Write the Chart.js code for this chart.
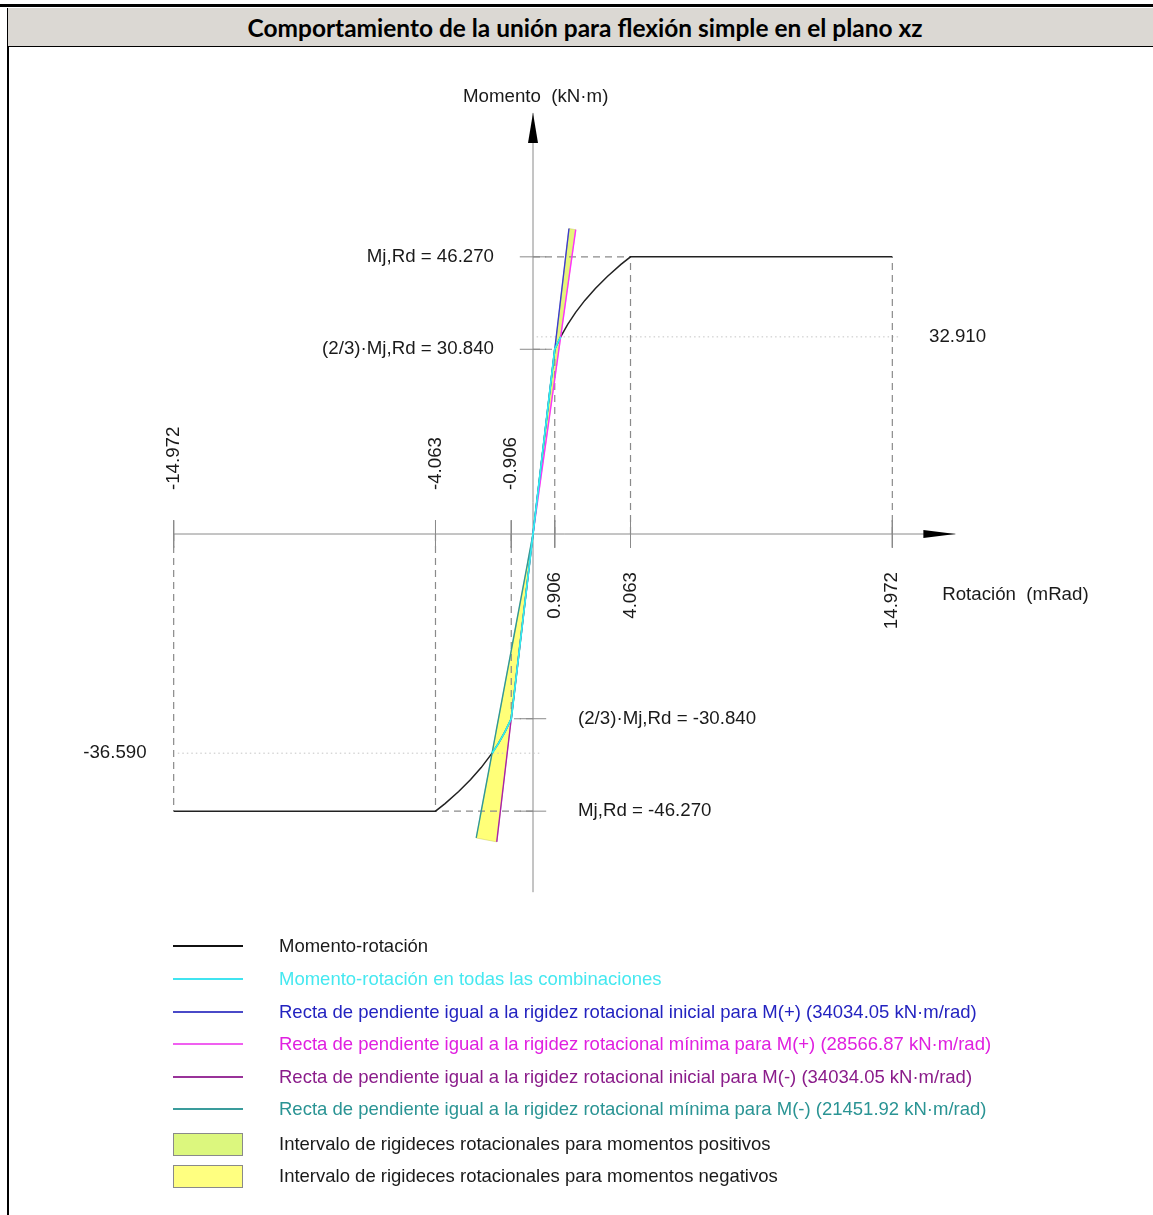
<!DOCTYPE html>
<html>
<head>
<meta charset="utf-8">
<script src="https://cdn.jsdelivr.net/npm/chart.js@4/dist/chart.umd.min.js"></script>
<style>
  html, body { margin: 0; padding: 0; background: #fff; }
  body { width: 1153px; height: 1215px; position: relative; overflow: hidden; font-family: "Liberation Sans", Arial, sans-serif; }
  #topThick { position: absolute; left: 0; top: 4px; width: 1153px; height: 3px; background: #000; }
  #topThin { position: absolute; left: 7px; top: 7.5px; width: 1146px; height: 1px; background: #000; }
  #header { position: absolute; left: 7px; top: 8px; width: 1146px; height: 39px; background: #dbd8d3; border-left: 1.5px solid #000; border-bottom: 1.5px solid #000; box-sizing: border-box; }
  #title { position: absolute; top: 0; left: 0; width: 1146px; height: 39px; line-height: 39px; text-align: center; font-family: Lato, "Open Sans", sans-serif; font-weight: bold; font-size: 20px; color: #000; white-space: nowrap; }
  #leftBorder { position: absolute; left: 7px; top: 47px; width: 1.5px; height: 1168px; background: #000; }
  #wrap { position: absolute; left: 0; top: 0; width: 1153px; height: 1215px; }
  .leg { position: absolute; left: 0; top: 0; }
  .legLine { position: absolute; left: 173px; width: 70px; height: 2px; }
  .legBox { position: absolute; left: 173px; width: 68px; height: 21px; border: 1px solid #8a8a8a; }
  .legText { position: absolute; left: 279px; font-size: 18.5px; white-space: nowrap; line-height: 20px; }
</style>
</head>
<body>
<div id="topThick"></div>
<div id="topThin"></div>
<div id="header"><div id="title">Comportamiento de la unión para flexión simple en el plano xz</div></div>
<div id="leftBorder"></div>
<div id="wrap"><canvas id="c"></canvas></div>
<div id="legend"></div>
<script>
// ---------------- DATA ----------------
// Moment-rotation curve, positive moments (rotation mRad, moment kN·m)
const curvePosRot = [0, 0.906, 1.152, 1.446, 1.777, 2.159, 2.598, 3.098, 3.665, 4.063, 14.972];
const curvePosMom = [0, 30.84, 32.91, 35.0, 37.0, 39.0, 41.0, 43.0, 45.0, 46.27, 46.27];
// Moment-rotation curve, negative moments
const curveNegRot = [0, -0.906, -1.164, -1.446, -1.705, -2.159, -2.598, -3.098, -3.665, -4.063, -14.972];
const curveNegMom = [0, -30.84, -33.0, -35.0, -36.59, -39.0, -41.0, -43.0, -45.0, -46.27, -46.27];
// Moment-rotation in all combinations (cyan)
const combPosRot = [0, 0.906, 1.026, 1.152];
const combPosMom = [0, 30.84, 31.9, 32.91];
const combNegRot = [0, -0.906, -1.164, -1.446, -1.705];
const combNegMom = [0, -30.84, -33.0, -35.0, -36.59];
// Stiffness lines (end points from origin)
const iniPosRot = [0, 1.499];   const iniPosMom = [0, 51.0];   // 34034.05 kN·m/rad
const minPosRot = [0, 1.780];   const minPosMom = [0, 50.8];   // 28566.87 kN·m/rad
const iniNegRot = [0, -1.511];  const iniNegMom = [0, -51.4];  // 34034.05 kN·m/rad
const minNegRot = [0, -2.366];  const minNegMom = [0, -50.75]; // 21451.92 kN·m/rad
// Stiffness intervals (polygons)
const bandPosRot = [0, 1.499, 1.780, 0];
const bandPosMom = [0, 51.0, 50.8, 0];
const bandNegRot = [0, -2.366, -1.511, 0];
const bandNegMom = [0, -50.75, -51.4, 0];
// Tick values
const xTickVals = [-14.972, -4.063, -0.906, 0.906, 4.063, 14.972];
const xTickEndMom = [-46.27, -46.27, -30.84, 30.84, 46.27, 46.27];
const yTickVals = [46.27, 30.84, -30.84, -46.27];
const yTickEndRot = [4.063, 0.906, -0.906, -4.063];
const yTickLabels = ["Mj,Rd = 46.270", "(2/3)·Mj,Rd = 30.840", "(2/3)·Mj,Rd = -30.840", "Mj,Rd = -46.270"];
const designMomVals = [32.91, -36.59];
const designRotStart = [0.15, -14.8];
const designRotEnd = [15.3, 0.3];
const designLabels = ["32.910", "-36.590"];
// Axis extents
const xAxisRange = [-15.0, 17.6];
const yAxisRange = [-59.8, 70.3];
const xTitle = "Rotación  (mRad)";
const yTitle = "Momento  (kN·m)";

// ---------------- legend ----------------
const legendItems = [
  {type:'line', color:'#111111', text:'Momento-rotación', tcolor:'#1a1a1a'},
  {type:'line', color:'#40e4f0', text:'Momento-rotación en todas las combinaciones', tcolor:'#45e8f0'},
  {type:'line', color:'#4a4ac8', text:'Recta de pendiente igual a la rigidez rotacional inicial para M(+) (34034.05 kN·m/rad)', tcolor:'#2323c0'},
  {type:'line', color:'#f060f0', text:'Recta de pendiente igual a la rigidez rotacional mínima para M(+) (28566.87 kN·m/rad)', tcolor:'#e020e0'},
  {type:'line', color:'#993399', text:'Recta de pendiente igual a la rigidez rotacional inicial para M(-) (34034.05 kN·m/rad)', tcolor:'#8a1c8a'},
  {type:'line', color:'#3a9c9c', text:'Recta de pendiente igual a la rigidez rotacional mínima para M(-) (21451.92 kN·m/rad)', tcolor:'#2a9494'},
  {type:'box', color:'#dcf77e', text:'Intervalo de rigideces rotacionales para momentos positivos', tcolor:'#1a1a1a'},
  {type:'box', color:'#ffff80', text:'Intervalo de rigideces rotacionales para momentos negativos', tcolor:'#1a1a1a'}
];
const legendY = [946, 979, 1012, 1044, 1077, 1109, 1144, 1176];
const legEl = document.getElementById('legend');
legendItems.forEach((it, i) => {
  const cy = legendY[i];
  if (it.type === 'line') {
    const d = document.createElement('div'); d.className = 'legLine';
    d.style.top = (cy - 1) + 'px'; d.style.background = it.color; legEl.appendChild(d);
  } else {
    const d = document.createElement('div'); d.className = 'legBox';
    d.style.top = (cy - 11) + 'px'; d.style.background = it.color; legEl.appendChild(d);
  }
  const t = document.createElement('div'); t.className = 'legText';
  t.style.top = (cy - 10) + 'px'; t.style.color = it.tcolor; t.textContent = it.text; legEl.appendChild(t);
});

// fit title to its width in the reference
(function(){
  const t = document.getElementById('title');
  const span = document.createElement('span'); span.textContent = t.textContent;
  t.textContent = ''; t.appendChild(span);
  const w = span.getBoundingClientRect().width;
  const fs = 20 * 675 / w;
  t.style.fontSize = fs.toFixed(2) + 'px';
  t.style.paddingLeft = '8px'; t.style.boxSizing = 'border-box';
})();

// ---------------- chart ----------------
const pts = (xs, ys) => xs.map((x, i) => ({x: x, y: ys[i]}));
const datasets = [];
function lineDs(xs, ys, color, width, order, dash, extra) {
  datasets.push(Object.assign({
    data: pts(xs, ys), showLine: true, borderColor: color, backgroundColor: color,
    borderWidth: width, pointRadius: 0, fill: false, tension: 0, order: order,
    borderDash: dash || []
  }, extra || {}));
}
// bands
lineDs(bandPosRot, bandPosMom, '#c8c864', 0.5, 20, null, {fill: 'shape', backgroundColor: '#e6f57a'});
lineDs(bandNegRot, bandNegMom, '#c8c864', 0.5, 20, null, {fill: 'shape', backgroundColor: '#ffff78'});
// axes
lineDs(xAxisRange, [0, 0], '#8a8a8a', 1, 15);
lineDs([0, 0], yAxisRange, '#8a8a8a', 1, 15);
// ticks and dashed reference lines
xTickVals.forEach((v, i) => {
  lineDs([v, v], [2.3, -2.3], '#8a8a8a', 1, 14);
  lineDs([v, v], [0, xTickEndMom[i]], '#8a8a8a', 1.2, 14, [7, 5]);
});
yTickVals.forEach((v, i) => {
  lineDs([-0.55, 0.55], [v, v], '#8a8a8a', 1, 14);
  lineDs([0, yTickEndRot[i]], [v, v], '#8a8a8a', 1.2, 14, [7, 5]);
});
designMomVals.forEach((v, i) => {
  lineDs([designRotStart[i], designRotEnd[i]], [v, v], '#c4c4c4', 1, 14, [1.5, 3]);
});
// curves
lineDs(curvePosRot, curvePosMom, '#222222', 1.5, 6);
lineDs(curveNegRot, curveNegMom, '#222222', 1.5, 6);
lineDs(iniPosRot, iniPosMom, '#3c3cd0', 1.4, 5);
lineDs(minPosRot, minPosMom, '#ff30ff', 1.4, 5);
lineDs(iniNegRot, iniNegMom, '#aa22aa', 1.4, 5);
lineDs(minNegRot, minNegMom, '#2f9898', 1.4, 5);
lineDs(combPosRot, combPosMom, '#30f0f0', 1.8, 4);
lineDs(combNegRot, combNegMom, '#30f0f0', 1.8, 4);

const labelsPlugin = {
  id: 'labels',
  afterDatasetsDraw(chart) {
    const ctx = chart.ctx, xs = chart.scales.x, ys = chart.scales.y;
    const X = v => xs.getPixelForValue(v), Y = v => ys.getPixelForValue(v);
    ctx.save();
    // arrowheads
    ctx.fillStyle = '#000';
    const x0 = X(0), y0 = Y(0);
    const ty = Y(yAxisRange[1]);
    ctx.beginPath(); ctx.moveTo(x0, ty); ctx.lineTo(x0 - 5, ty + 30); ctx.lineTo(x0 + 5, ty + 30); ctx.closePath(); ctx.fill();
    const tx = X(xAxisRange[1]);
    ctx.beginPath(); ctx.moveTo(tx, y0); ctx.lineTo(tx - 32, y0 - 4); ctx.lineTo(tx - 32, y0 + 4); ctx.closePath(); ctx.fill();
    // text
    ctx.fillStyle = '#1a1a1a';
    ctx.font = '18.7px "Liberation Sans", Arial, sans-serif';
    ctx.textBaseline = 'middle';
    // x tick labels (rotated)
    xTickVals.forEach(v => {
      ctx.save();
      if (v < 0) { ctx.translate(X(v), y0 - 44); ctx.rotate(-Math.PI / 2); ctx.textAlign = 'left'; }
      else { ctx.translate(X(v), y0 + 38); ctx.rotate(-Math.PI / 2); ctx.textAlign = 'right'; }
      ctx.fillText(v.toFixed(3), 0, 0);
      ctx.restore();
    });
    // y tick labels
    yTickVals.forEach((v, i) => {
      if (v > 0) { ctx.textAlign = 'right'; ctx.fillText(yTickLabels[i], x0 - 39, Y(v)); }
      else { ctx.textAlign = 'left'; ctx.fillText(yTickLabels[i], x0 + 45, Y(v)); }
    });
    // design values
    ctx.textAlign = 'left';
    ctx.fillText(designLabels[0], X(16.5), Y(designMomVals[0]));
    ctx.textAlign = 'right';
    ctx.fillText(designLabels[1], X(-16.1), Y(designMomVals[1]));
    // axis titles
    ctx.textAlign = 'left';
    ctx.fillText(yTitle, x0 - 70, Y(yAxisRange[1]) - 16);
    ctx.fillText(xTitle, X(17.05), y0 + 61);
    ctx.restore();
  }
};

new Chart(document.getElementById('c'), {
  type: 'scatter',
  data: { datasets: datasets },
  options: {
    responsive: true, maintainAspectRatio: false, animation: false,
    layout: { padding: 0 },
    plugins: { legend: { display: false }, tooltip: { enabled: false } },
    events: [],
    scales: {
      x: { type: 'linear', display: false, min: -533 / 24, max: 620 / 24 },
      y: { type: 'linear', display: false, min: -681 / 5.99, max: 534 / 5.99 }
    }
  },
  plugins: [labelsPlugin]
});
</script>
</body>
</html>
